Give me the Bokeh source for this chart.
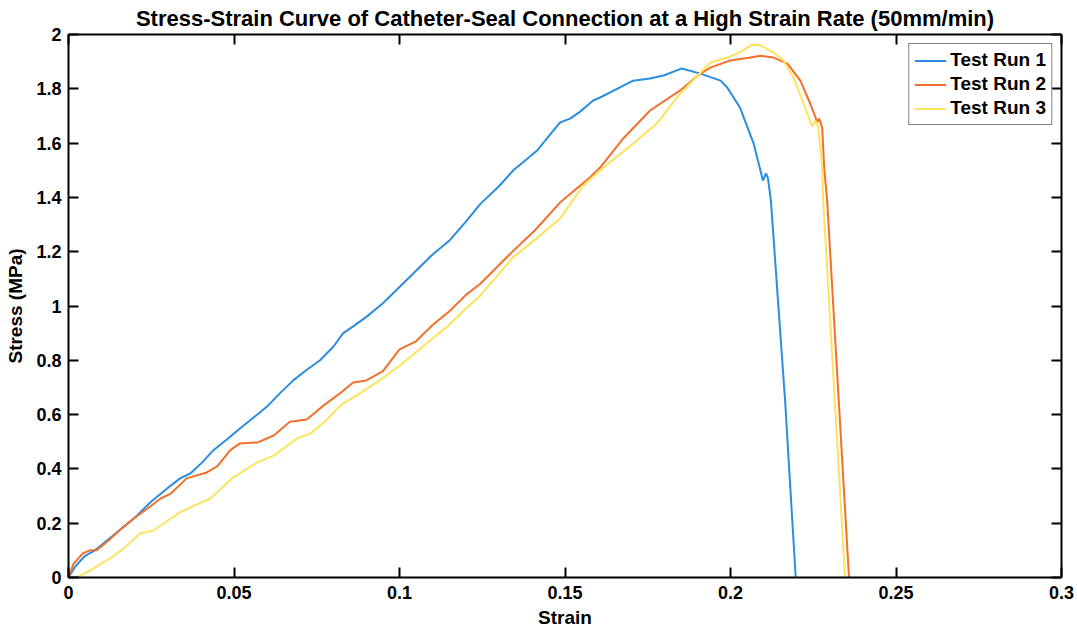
from bokeh.plotting import figure
from bokeh.models import LinearAxis, FixedTicker, Legend, LegendItem, Range1d, Title
from bokeh.embed import file_html
from bokeh.resources import INLINE

# ---------------- data ----------------
run1_strain = [0, 0.002, 0.005, 0.008, 0.012, 0.016, 0.02, 0.025, 0.03, 0.0337, 0.0368,
               0.0405, 0.0437, 0.048, 0.0518, 0.056, 0.06, 0.064, 0.0679, 0.072, 0.076,
               0.08, 0.083, 0.086, 0.09, 0.095, 0.1, 0.105, 0.11, 0.115, 0.12, 0.1245,
               0.13, 0.1344, 0.1416, 0.1485, 0.1515, 0.1545, 0.1585, 0.1606, 0.1666,
               0.1706, 0.1757, 0.18, 0.1853, 0.1909, 0.197, 0.199, 0.2029, 0.207, 0.2098,
               0.2107, 0.2113, 0.2122, 0.2165, 0.2197]
run1_stress = [0, 0.04, 0.08, 0.1, 0.14, 0.18, 0.22, 0.28, 0.33, 0.365, 0.383,
               0.425, 0.468, 0.51, 0.549, 0.59, 0.63, 0.68, 0.726, 0.765, 0.8,
               0.85, 0.9, 0.925, 0.96, 1.01, 1.07, 1.13, 1.19, 1.24, 1.31, 1.377,
               1.44, 1.5, 1.573, 1.676, 1.69, 1.715, 1.757, 1.768, 1.805,
               1.83, 1.838, 1.85, 1.875, 1.856, 1.83, 1.805, 1.73, 1.598, 1.462,
               1.488, 1.473, 1.389, 0.65, 0]

run2_strain = [0, 0.0015, 0.0044, 0.0065, 0.0085, 0.012, 0.016, 0.02, 0.024, 0.0277,
               0.031, 0.0357, 0.0418, 0.045, 0.0488, 0.0518, 0.057, 0.062, 0.0669, 0.072,
               0.077, 0.082, 0.086, 0.09, 0.095, 0.1, 0.105, 0.11, 0.115, 0.12, 0.1245,
               0.1335, 0.141, 0.1485, 0.1575, 0.1606, 0.1676, 0.1757, 0.1848, 0.1909,
               0.1939, 0.1999, 0.206, 0.209, 0.213, 0.2172, 0.2211, 0.2241, 0.2255,
               0.2262, 0.2268, 0.2277, 0.2283, 0.2292, 0.2358]
run2_stress = [0, 0.05, 0.09, 0.1, 0.1, 0.135, 0.18, 0.22, 0.255, 0.29,
               0.31, 0.365, 0.387, 0.41, 0.468, 0.494, 0.497, 0.523, 0.574, 0.582,
               0.633, 0.678, 0.718, 0.726, 0.76, 0.84, 0.87, 0.93, 0.98, 1.04, 1.083,
               1.193, 1.28, 1.381, 1.473, 1.51, 1.617, 1.72, 1.794, 1.856,
               1.878, 1.904, 1.915, 1.922, 1.915, 1.893, 1.83, 1.745, 1.70,
               1.678, 1.69, 1.657, 1.51, 1.389, 0]

run3_strain = [0, 0.0026, 0.0065, 0.0125, 0.017, 0.0216, 0.0257, 0.03, 0.0337, 0.038,
               0.0428, 0.0497, 0.057, 0.062, 0.069, 0.073, 0.078, 0.082, 0.088, 0.094,
               0.1, 0.105, 0.11, 0.115, 0.12, 0.1245, 0.1344, 0.1415, 0.1485, 0.1555,
               0.1606, 0.1706, 0.1777, 0.1848, 0.1939, 0.199, 0.2029, 0.2065, 0.209,
               0.213, 0.216, 0.219, 0.2232, 0.2247, 0.2256, 0.2265, 0.2277, 0.228, 0.2346]
run3_stress = [0, 0, 0.026, 0.07, 0.11, 0.162, 0.173, 0.21, 0.24, 0.265,
               0.29, 0.368, 0.424, 0.449, 0.512, 0.53, 0.58, 0.633, 0.678, 0.726,
               0.78, 0.83, 0.88, 0.93, 0.99, 1.04, 1.18, 1.25, 1.322, 1.444,
               1.5, 1.598, 1.672, 1.782, 1.897, 1.915, 1.934, 1.963, 1.96,
               1.934, 1.904, 1.842, 1.709, 1.661, 1.683, 1.661, 1.51, 1.389, 0]

series_names = ["Test Run 1", "Test Run 2", "Test Run 3"]
series_colors = ["#2b8de0", "#f2702c", "#fde35c"]

x_ticks = [0, 0.05, 0.1, 0.15, 0.2, 0.25, 0.3]
x_tick_labels = ["0", "0.05", "0.1", "0.15", "0.2", "0.25", "0.3"]
y_ticks = [0, 0.2, 0.4, 0.6, 0.8, 1.0, 1.2, 1.4, 1.6, 1.8, 2.0]
y_tick_labels = ["0", "0.2", "0.4", "0.6", "0.8", "1", "1.2", "1.4", "1.6", "1.8", "2"]

title_text = "Stress-Strain Curve of Catheter-Seal Connection at a High Strain Rate (50mm/min)"
x_label = "Strain"
y_label = "Stress (MPa)"

FONT = "Liberation Sans"

# ---------------- figure ----------------
p = figure(width=1077, height=630, output_backend="svg", toolbar_location=None,
           x_range=Range1d(0, 0.3), y_range=Range1d(0, 2),
           min_border_left=68, min_border_right=16, min_border_top=34, min_border_bottom=53,
           x_axis_location=None, y_axis_location=None)
p.outline_line_color = None
p.xgrid.visible = False
p.ygrid.visible = False
p.background_fill_color = "white"
p.border_fill_color = "white"

p.title = Title(text=title_text, align="center", text_font=FONT, text_font_style="bold",
                text_font_size="22px", text_color="black", standoff=7, offset=0)

def style_axis(ax, ticks, labels, show_labels):
    ax.ticker = FixedTicker(ticks=ticks)
    ax.axis_line_color = "black"
    ax.axis_line_width = 2
    ax.major_tick_line_color = "black"
    ax.major_tick_line_width = 2
    ax.major_tick_in = 10
    ax.major_tick_out = 0
    ax.minor_tick_line_color = None
    ax.major_label_text_font = FONT
    ax.major_label_text_font_style = "bold"
    ax.major_label_text_color = "black"
    ax.axis_label_text_font = FONT
    ax.axis_label_text_font_style = "bold"
    ax.axis_label_text_color = "black"
    ax.axis_label_text_font_size = "19px"
    ax.major_label_text_font_size = "18px"
    if show_labels:
        ax.major_label_overrides = {t: l for t, l in zip(ticks, labels)}
    else:
        ax.major_label_overrides = {t: "" for t in ticks}
        ax.major_label_text_color = None
        ax.major_label_standoff = 0

xb = LinearAxis(axis_label=x_label)
style_axis(xb, x_ticks, x_tick_labels, True)
xb.major_label_standoff = 8
xb.axis_label_standoff = 5
p.add_layout(xb, "below")

yl = LinearAxis(axis_label=y_label)
style_axis(yl, y_ticks, y_tick_labels, True)
yl.major_label_standoff = 7
yl.axis_label_standoff = 7
p.add_layout(yl, "left")

xt = LinearAxis()
style_axis(xt, x_ticks, x_tick_labels, False)
p.add_layout(xt, "above")

yr = LinearAxis()
style_axis(yr, y_ticks, y_tick_labels, False)
p.add_layout(yr, "right")

renderers = []
for xs, ys, c in zip([run1_strain, run2_strain, run3_strain],
                     [run1_stress, run2_stress, run3_stress], series_colors):
    r = p.line(xs, ys, line_color=c, line_width=2)
    renderers.append(r)

legend = Legend(items=[LegendItem(label=n, renderers=[r]) for n, r in zip(series_names, renderers)],
                location="top_right")
legend.margin = 9
legend.padding = 5
legend.spacing = 2
legend.label_height = 19
legend.glyph_height = 19
legend.glyph_width = 32
legend.label_standoff = 4
legend.label_text_font = FONT
legend.label_text_font_style = "bold"
legend.label_text_font_size = "19px"
legend.label_text_color = "black"
legend.border_line_color = "black"
legend.border_line_width = 1.5
legend.background_fill_color = "white"
legend.background_fill_alpha = 1
p.add_layout(legend, "center")

open("out.html", "w").write(file_html(p, INLINE))
